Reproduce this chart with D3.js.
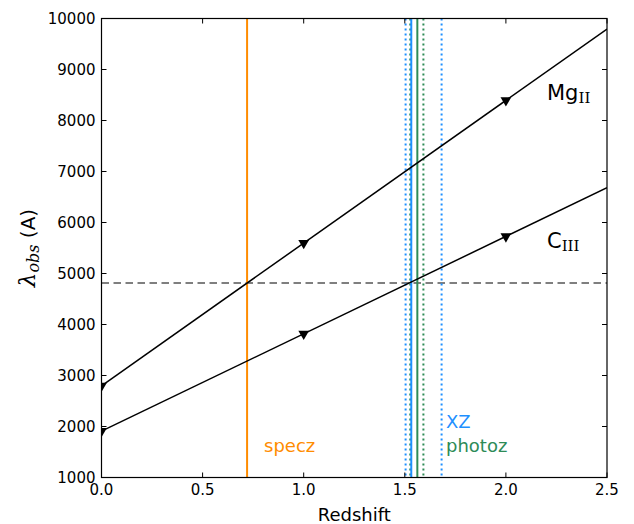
<!DOCTYPE html>
<html>
<head>
<meta charset="utf-8">
<script src="https://cdn.jsdelivr.net/npm/d3@7"></script>
<style>
  body { margin: 0; background: #fff; }
  svg { font-family: "DejaVu Sans", sans-serif; }
</style>
</head>
<body>
<svg id="chart" width="634" height="524"></svg>
<script>
// Rest-frame wavelengths of the emission lines (Angstrom)
const lineNames = ["Mg", "C"];
const lineSubs = ["II", "III"];
const restWavelengths = [2798, 1909];
const markerRedshifts = [0, 1, 2];
const xTicks = [0.0, 0.5, 1.0, 1.5, 2.0, 2.5];
const yTicks = [1000, 2000, 3000, 4000, 5000, 6000, 7000, 8000, 9000, 10000];

// Observed wavelength of interest and the redshift estimates
const observedWavelength = 4815;
const speczValue = [0.72];
const xzValue = [1.532];
const xzRange = [1.504, 1.682];
const photozValue = [1.562];
const photozRange = [1.527, 1.592];

const svg = d3.select("#chart");
const m = { left: 101.5, right: 607, top: 18.5, bottom: 477.5 };
const x = d3.scaleLinear().domain([0, 2.5]).range([m.left, m.right]);
const y = d3.scaleLinear().domain([1000, 10000]).range([m.bottom, m.top]);

svg.append("defs").append("clipPath").attr("id", "plotclip")
  .append("rect").attr("x", m.left).attr("y", m.top)
  .attr("width", m.right - m.left).attr("height", m.bottom - m.top);

const plot = svg.append("g").attr("clip-path", "url(#plotclip)");

// Horizontal dashed reference wavelength
plot.append("line")
  .attr("x1", m.left).attr("x2", m.right)
  .attr("y1", y(observedWavelength)).attr("y2", y(observedWavelength))
  .attr("stroke", "#7f7f7f").attr("stroke-width", 2)
  .attr("stroke-dasharray", "7.5,4.5");

function vline(z, color, dash) {
  plot.append("line")
    .attr("x1", x(z)).attr("x2", x(z))
    .attr("y1", m.top).attr("y2", m.bottom)
    .attr("stroke", color).attr("stroke-width", 2)
    .attr("stroke-dasharray", dash ? "2,3" : null);
}
vline(speczValue[0], "#ff8c00", false);
xzRange.forEach(z => vline(z, "#1e90ff", true));
photozRange.forEach(z => vline(z, "#2e8b57", true));
vline(xzValue[0], "#1e90ff", false);
vline(photozValue[0], "#2e8b57", false);

// Emission-line tracks lambda_obs = lambda_rest * (1 + z)
const zDomain = x.domain();
restWavelengths.forEach(lr => {
  plot.append("line")
    .attr("x1", x(zDomain[0])).attr("y1", y(lr * (1 + zDomain[0])))
    .attr("x2", x(zDomain[1])).attr("y2", y(lr * (1 + zDomain[1])))
    .attr("stroke", "#000").attr("stroke-width", 1.5);
  const tri = d3.symbol().type(d3.symbolTriangle).size(50);
  markerRedshifts.forEach(z => {
    plot.append("path")
      .attr("d", tri())
      .attr("transform", `translate(${x(z)},${y(lr * (1 + z))}) rotate(180)`)
      .attr("fill", "#000");
  });
});

// Axes frame
svg.append("rect").attr("x", m.left).attr("y", m.top)
  .attr("width", m.right - m.left).attr("height", m.bottom - m.top)
  .attr("fill", "none").attr("stroke", "#000").attr("stroke-width", 1.2);

const tickLen = 5;
const ticks = svg.append("g").attr("stroke", "#000").attr("stroke-width", 1);
xTicks.forEach(t => {
  ticks.append("line").attr("x1", x(t)).attr("x2", x(t))
    .attr("y1", m.bottom).attr("y2", m.bottom - tickLen);
  ticks.append("line").attr("x1", x(t)).attr("x2", x(t))
    .attr("y1", m.top).attr("y2", m.top + tickLen);
});
yTicks.forEach(t => {
  ticks.append("line").attr("x1", m.left).attr("x2", m.left + tickLen)
    .attr("y1", y(t)).attr("y2", y(t));
  ticks.append("line").attr("x1", m.right).attr("x2", m.right - tickLen)
    .attr("y1", y(t)).attr("y2", y(t));
});

svg.append("g").selectAll("text").data(xTicks).join("text")
  .attr("x", d => x(d)).attr("y", m.bottom + 17)
  .attr("text-anchor", "middle").attr("font-size", 15)
  .text(d => d.toFixed(1));
svg.append("g").selectAll("text").data(yTicks).join("text")
  .attr("x", m.left - 6).attr("y", d => y(d) + 5.5)
  .attr("text-anchor", "end").attr("font-size", 15)
  .text(d => d);

svg.append("text").attr("x", (m.left + m.right) / 2).attr("y", 521)
  .attr("text-anchor", "middle").attr("font-size", 18).text("Redshift");

// Y-axis label: lambda_obs (A)
const yl = svg.append("text")
  .attr("transform", `translate(35, ${(m.top + m.bottom) / 2}) rotate(-90)`)
  .attr("text-anchor", "middle").attr("font-size", 20);
yl.append("tspan").attr("font-family", "DejaVu Serif").attr("font-style", "italic")
  .attr("font-size", 23).text("λ");
yl.append("tspan").attr("font-family", "DejaVu Serif").attr("font-style", "italic")
  .attr("font-size", 16).attr("dy", 4).text("obs");
yl.append("tspan").attr("dy", -4).text(" (A)");

// Emission line labels
const lineLabelPos = [[547, 100], [547, 248]];
lineNames.forEach((n, i) => {
  const t = svg.append("text").attr("x", lineLabelPos[i][0]).attr("y", lineLabelPos[i][1])
    .attr("font-size", 21);
  t.append("tspan").text(n);
  t.append("tspan").attr("font-family", "DejaVu Serif").attr("font-size", 15)
    .attr("dy", 3).text(lineSubs[i]);
});

// Estimate labels
svg.append("text").attr("x", 264).attr("y", 452).attr("font-size", 18)
  .attr("fill", "#ff8c00").text("specz");
svg.append("text").attr("x", 446).attr("y", 428).attr("font-size", 18)
  .attr("fill", "#1e90ff").text("XZ");
svg.append("text").attr("x", 446).attr("y", 452).attr("font-size", 18)
  .attr("fill", "#2e8b57").text("photoz");
</script>
</body>
</html>
